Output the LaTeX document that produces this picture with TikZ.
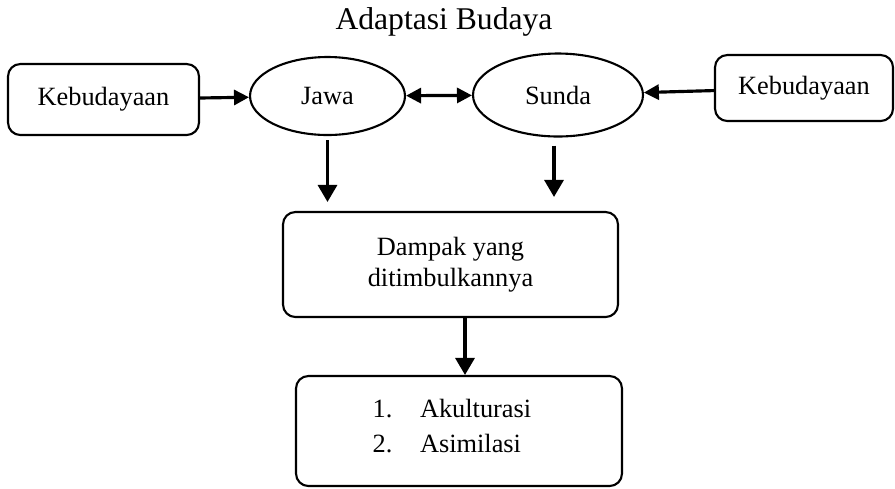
\documentclass[tikz,border=0pt]{standalone}
\usepackage{fontspec}
\setmainfont{Liberation Serif}
\usepackage{tikz}
\usetikzlibrary{shapes.geometric,positioning,arrows.meta}

\begin{document}
\begin{tikzpicture}[
  x=0.02cm, y=-0.02cm,
  culture/.style={draw, line width=1.2pt, rounded corners=7pt,
    minimum height=1.42cm, font=\fontsize{15}{18}\selectfont, align=center},
  group/.style={draw, ellipse, line width=1.2pt, inner sep=0pt,
    font=\fontsize{15}{18}\selectfont},
  arr/.style={-{Triangle[length=0.3cm, width=0.3cm]}, line width=1.8pt},
  downarr/.style={-{Triangle[length=0.34cm, width=0.38cm]}, line width=1.8pt},
  darr/.style={{Triangle[length=0.3cm, width=0.3cm]}-{Triangle[length=0.3cm, width=0.3cm]}, line width=1.8pt},
]
  \useasboundingbox (0,0) rectangle (895,488);

  \node[font=\fontsize{18}{22}\selectfont] (title) at (444,22) {Adaptasi Budaya};

  \node[culture, minimum width=3.82cm] (kebL) at (103.5,99.5) {Kebudayaan};
  \node[group, minimum width=3.1cm, minimum height=1.56cm] (jawa) at (327.5,96) {Jawa};
  \node[group, minimum width=3.4cm, minimum height=1.66cm] (sunda) at (558,95) {Sunda};
  \node[culture, minimum width=3.56cm, minimum height=1.32cm] (kebR) at (804,88) {Kebudayaan};

  \node[culture, minimum width=6.7cm, minimum height=2.1cm,
    font=\fontsize{15}{17.5}\selectfont] (dampak) at (450.5,264.5) {Dampak yang\\ditimbulkannya};
  \node[culture, minimum width=6.52cm, minimum height=2.2cm] (hasil) at (459,431) {};
  \node[font=\fontsize{15}{20}\selectfont, inner sep=0pt] (daftar) at (452,428)
    {\begin{tabular}{@{}l@{\hspace{0.55cm}}l@{}}1. & Akulturasi\\2. & Asimilasi\end{tabular}};

  \draw[arr] (kebL) -- (jawa);
  \draw[darr] (jawa) -- (sunda);
  \draw[arr] (kebR) -- (sunda);

  \draw[downarr, shorten <=0.08cm, shorten >=0.18cm] (jawa.south) -- (jawa.south |- dampak.north);
  \draw[downarr, shorten <=0.16cm, shorten >=0.28cm] ([xshift=-0.08cm]sunda.south) -- ([xshift=-0.08cm]sunda.south |- dampak.north);
  \draw[downarr] ([xshift=0.29cm]dampak.south) -- ([xshift=0.29cm]dampak.south |- hasil.north);
\end{tikzpicture}
\end{document}
